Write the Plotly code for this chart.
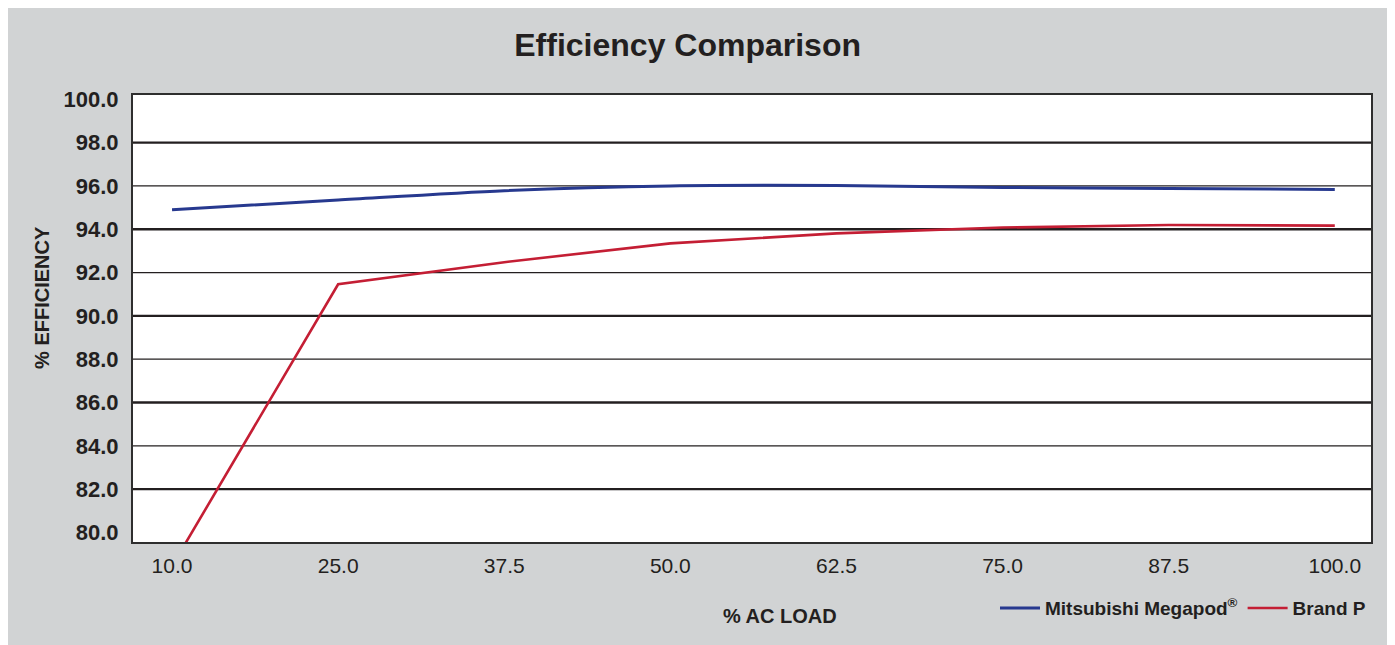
import plotly.graph_objects as go

# ---- data ----
load_labels = ["10.0", "25.0", "37.5", "50.0", "62.5", "75.0", "87.5", "100.0"]
megapod = [94.90, 95.35, 95.78, 96.00, 96.02, 95.93, 95.88, 95.84]
brand_p = [78.45, 91.46, 92.48, 93.35, 93.81, 94.08, 94.20, 94.17]
y_ticks = [80, 82, 84, 86, 88, 90, 92, 94, 96, 98, 100]
grid_thick = [82, 86, 90, 94, 98]
grid_thin = [84, 88, 92, 96]

FONT = "Liberation Sans, Arial, sans-serif"
INK = "#231f20"

fig = go.Figure()
fig.add_trace(go.Scatter(
    x=load_labels, y=megapod, mode="lines", name="Mitsubishi Megapod<sup>®</sup>",
    line=dict(color="#27398f", width=3, shape="spline", smoothing=0.8),
))
fig.add_trace(go.Scatter(
    x=load_labels, y=brand_p, mode="lines", name="Brand P",
    line=dict(color="#c41e34", width=2.6),
))

shapes = []
for v in grid_thick:
    shapes.append(dict(type="line", xref="paper", yref="y", x0=0, x1=1, y0=v, y1=v,
                       line=dict(color=INK, width=2.4), layer="below"))
for v in grid_thin:
    shapes.append(dict(type="line", xref="paper", yref="y", x0=0, x1=1, y0=v, y1=v,
                       line=dict(color=INK, width=1.2), layer="below"))

fig.update_layout(
    width=1387, height=637,
    margin=dict(l=125, r=24, t=87, b=103),
    paper_bgcolor="#d1d3d4",
    plot_bgcolor="#ffffff",
    font=dict(family=FONT, color=INK),
    title=dict(text="Efficiency Comparison", x=0.490, xanchor="center",
               y=0.942, yanchor="middle",
               font=dict(family=FONT, size=32, weight="bold", color=INK)),
    showlegend=True,
    legend=dict(orientation="h", x=1.0, xanchor="right", y=-0.148, yanchor="middle",
                bgcolor="rgba(0,0,0,0)",
                font=dict(family=FONT, size=19, weight="bold", color=INK),
                itemwidth=40, tracegroupgap=0),
    shapes=shapes,
    annotations=[
        dict(text="% EFFICIENCY", xref="paper", yref="paper", x=-0.0735, y=0.546,
             textangle=-90, showarrow=False, xanchor="center", yanchor="middle",
             font=dict(family=FONT, size=20, weight="bold", color=INK)),
        dict(text="% AC LOAD", xref="paper", yref="paper", x=0.5226, y=-0.1655,
             showarrow=False, xanchor="center", yanchor="middle",
             font=dict(family=FONT, size=20, weight="bold", color=INK)),
    ],
)

fig.update_xaxes(
    type="category", range=[-0.235, 7.218],
    showgrid=False, zeroline=False, ticks="",
    showline=True, mirror=True, linecolor="#2e2e2e", linewidth=2,
    tickfont=dict(family=FONT, size=21, color=INK),
    ticklabelstandoff=4,
)
fig.update_yaxes(
    range=[79.56, 100.2], tickvals=y_ticks, ticktext=[f"{v:.1f}" for v in y_ticks],
    showgrid=False, zeroline=False, ticks="",
    showline=True, mirror=True, linecolor="#2e2e2e", linewidth=2,
    tickfont=dict(family=FONT, size=22, weight="bold", color=INK),
    ticklabelstandoff=8,
)

fig.write_html("out.html")
